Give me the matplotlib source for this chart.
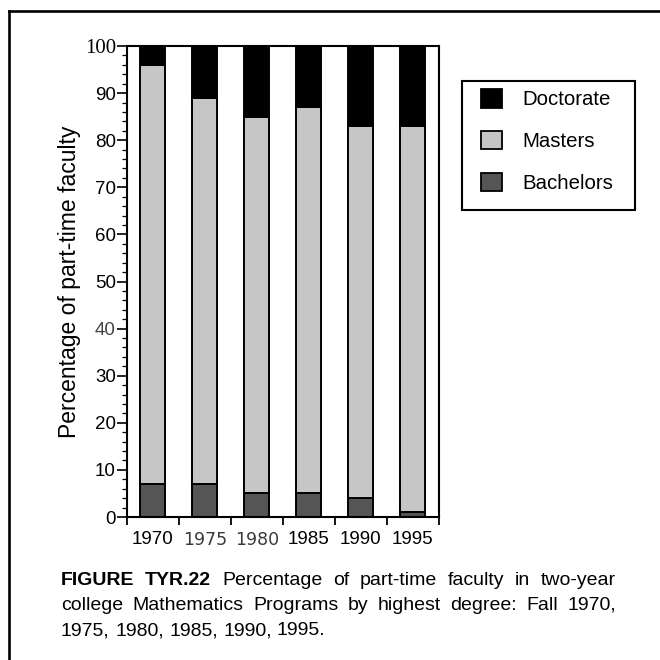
import matplotlib
matplotlib.use("Agg")
import matplotlib.pyplot as plt
from matplotlib.patches import Patch, Rectangle
from matplotlib.lines import Line2D
from matplotlib.ticker import MultipleLocator

# ---- data ----
years = ['1970', '1975', '1980', '1985', '1990', '1995']
bachelors = [7, 7, 5, 5, 4, 1]
masters = [89, 82, 80, 82, 79, 82]
doctorate = [4, 11, 15, 13, 17, 17]
series_names = ['Doctorate', 'Masters', 'Bachelors']
y_ticks = [0, 10, 20, 30, 40, 50, 60, 70, 80, 90, 100]
ylabel = 'Percentage of part-time faculty'
caption_bold = 'FIGURE TYR.22'
caption_line1 = 'Percentage of part-time faculty in two-year'
caption_line2 = 'college Mathematics Programs by highest degree: Fall 1970,'
caption_line3 = '1975, 1980, 1985, 1990, 1995.'

plt.rcParams['font.family'] = ['Liberation Sans', 'DejaVu Sans']

W = H = 660
fig = plt.figure(figsize=(6.6, 6.6), dpi=100)
fig.patch.set_facecolor('white')

def fx(px):
    return px / W

def fy(py):
    return 1 - py / H

ax = fig.add_axes([fx(127), fy(517), fx(438.5) - fx(127), fy(46) - fy(517)])

c_doc = '#000000'
c_mas = '#c6c6c6'
c_bac = '#555555'
x = list(range(len(years)))
bw = 0.48
ax.bar(x, bachelors, width=bw, color=c_bac, edgecolor='black', linewidth=1.4, zorder=2)
ax.bar(x, masters, width=bw, bottom=bachelors, color=c_mas, edgecolor='black', linewidth=1.4, zorder=2)
tops = [b + m for b, m in zip(bachelors, masters)]
ax.bar(x, doctorate, width=bw, bottom=tops, color=c_doc, edgecolor='black', linewidth=1.4, zorder=2)

ax.set_xlim(-0.5, len(years) - 0.5)
ax.set_ylim(0, 100)
for s in ax.spines.values():
    s.set_linewidth(1.5)

# x: boundary ticks (major, unlabeled) and centered labels (minor, no tick)
ax.set_xticks([i - 0.5 for i in range(len(years) + 1)])
ax.set_xticklabels([])
ax.set_xticks(x, labels=years, minor=True)
ax.tick_params(axis='x', which='major', direction='out', length=6, width=1.3)
ax.tick_params(axis='x', which='minor', length=0, pad=10, labelsize=13.5)

ax.set_yticks(y_ticks)
ax.yaxis.set_minor_locator(MultipleLocator(2))
ax.tick_params(axis='y', which='major', direction='out', length=7, width=1.2, pad=1, labelsize=13.5)
ax.tick_params(axis='y', which='minor', direction='out', length=3.5, width=0.9)

for i, lbl in enumerate(ax.get_xticklabels(minor=True)):
    if years[i] in ('1975', '1980'):
        lbl.set_family('DejaVu Sans')
        lbl.set_color('#3a3a3a')
        lbl.set_fontsize(12.5)
for i, v in enumerate(y_ticks):
    lbl = ax.get_yticklabels()[i]
    if v == 100:
        lbl.set_family('Liberation Serif')
        lbl.set_fontsize(15)
    if v == 40:
        lbl.set_color('#444444')

ax.set_ylabel(ylabel, fontsize=16.5, labelpad=2.5)

# legend (frame drawn as a box, entries via legend)
handles = [Patch(facecolor=c, edgecolor='black', linewidth=1.3) for c in (c_doc, c_mas, c_bac)]
leg = fig.legend(handles, series_names, loc='upper left',
                 bbox_to_anchor=(fx(481), fy(89)), frameon=False,
                 fontsize=14.7, handlelength=1.03, handleheight=1.03,
                 handletextpad=1.0, labelspacing=1.05, borderpad=0, borderaxespad=0)
fig.add_artist(Rectangle((fx(462), fy(210)), fx(635) - fx(462), fy(81) - fy(210),
                         transform=fig.transFigure, fill=False, edgecolor='black', linewidth=1.5))

# page border (top and left)
fig.add_artist(Line2D([fx(9), fx(660)], [fy(11), fy(11)], transform=fig.transFigure, color='black', linewidth=1.9))
fig.add_artist(Line2D([fx(9), fx(9)], [fy(11), fy(660)], transform=fig.transFigure, color='black', linewidth=1.9))

# caption with justified lines
fig.canvas.draw()
renderer = fig.canvas.get_renderer()
cap_fs = 14
left_px, right_px = 61, 616

def place_line(tokens, base_py, justify=True):
    texts = []
    for word, bold in tokens:
        t = fig.text(0, fy(base_py), word, fontsize=cap_fs, fontweight='bold' if bold else 'normal',
                     va='baseline', ha='left')
        texts.append(t)
    widths = [t.get_window_extent(renderer).width for t in texts]
    if justify and len(texts) > 1:
        gap = (right_px - left_px - sum(widths)) / (len(texts) - 1)
    else:
        gap = cap_fs * 100 / 72 * 0.278
    cur = left_px
    for t, w in zip(texts, widths):
        t.set_x(fx(cur))
        cur += w + gap

line1 = [(w, True) for w in caption_bold.split()] + [(w, False) for w in caption_line1.split()]
line2 = [(w, False) for w in caption_line2.split()]
line3 = [(w, False) for w in caption_line3.split()]
place_line(line1, 585)
place_line(line2, 610)
place_line(line3, 635, justify=False)

fig.savefig('out.png', dpi=100, facecolor='white')
